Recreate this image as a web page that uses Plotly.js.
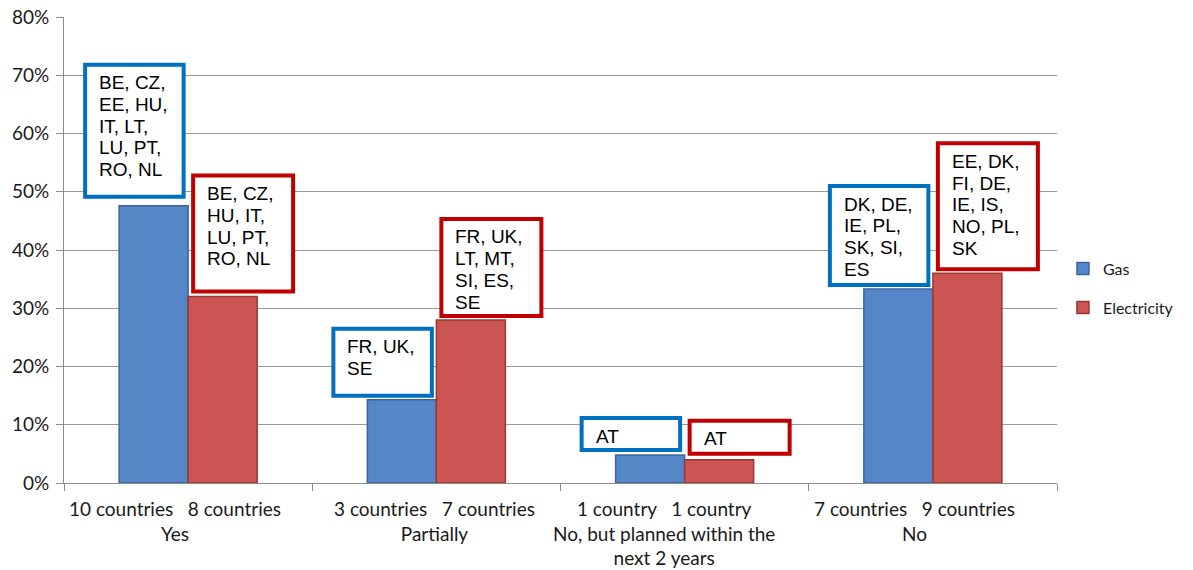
<!DOCTYPE html>
<html>
<head>
<meta charset="utf-8">
<script src="https://cdn.plot.ly/plotly-3.0.1.min.js"></script>
<style>
  html, body { margin: 0; padding: 0; background: #ffffff; }
  #chart { width: 1193px; height: 570px; }
</style>
</head>
<body>
<div id="chart"></div>
<script>
// Survey answers per category (share of responding countries, %)
const categories = ['Yes', 'Partially', 'No, but planned within the<br>next 2 years', 'No'];
const gasShare = [47.6, 14.3, 4.8, 33.3];
const elecShare = [32, 28, 4, 36];
const gasCount = ['10 countries', '3 countries', '1 country', '7 countries'];
const elecCount = ['8 countries', '7 countries', '1 country', '9 countries'];
const gasCountries = [
  ['BE, CZ,', 'EE, HU,', 'IT, LT,', 'LU, PT,', 'RO, NL'],
  ['FR, UK,', 'SE'],
  ['AT'],
  ['DK, DE,', 'IE, PL,', 'SK, SI,', 'ES']
];
const elecCountries = [
  ['BE, CZ,', 'HU, IT,', 'LU, PT,', 'RO, NL'],
  ['FR, UK,', 'LT, MT,', 'SI, ES,', 'SE'],
  ['AT'],
  ['EE, DK,', 'FI, DE,', 'IE, IS,', 'NO, PL,', 'SK']
];
const yTickVals = [0, 10, 20, 30, 40, 50, 60, 70, 80];
const yTickText = ['0%', '10%', '20%', '30%', '40%', '50%', '60%', '70%', '80%'];

// Styling
const GAS_FILL = '#5586c8', GAS_EDGE = '#3b659c', GAS_BOX = '#0070c0';
const ELEC_FILL = '#cc5452', ELEC_EDGE = '#9a3634', ELEC_BOX = '#c00000';
const gasBoxH = [136, 71, 36, 103];     // callout heights in px
const elecBoxH = [120, 101, 37, 130];
const gasBoxGap = [7, 2, 3, 2];         // space between bar top and callout
const elecBoxGap = [3, 2, 4, 2];
const labelShift = [-13, -2, -21, -18]; // category label nudges in px
const BOX_LW = 4, LINE_STEP = 21.7, TEXT_TOP = 13;
const BARGAP = 0.444;
const LABEL_FONT = 'Lato, sans-serif';

const xIdx = categories.map((c, i) => i);

const traces = [
  {
    type: 'bar', name: 'Gas', x: categories, y: gasShare,
    marker: { color: GAS_FILL, line: { color: GAS_EDGE, width: 1.5 } },
    legendgroup: 'g', hoverinfo: 'skip'
  },
  {
    type: 'bar', name: 'Electricity', x: categories, y: elecShare,
    marker: { color: ELEC_FILL, line: { color: ELEC_EDGE, width: 1.5 } },
    legendgroup: 'e', hoverinfo: 'skip'
  }
];

const shapes = [];
const annotations = [];

// Country-list callout: white box with coloured frame sitting on the bar top
function callout(i, value, lines, h, gap, x0, x1, color) {
  shapes.push({
    type: 'rect', layer: 'above',
    xref: 'x', yref: 'y',
    xsizemode: 'pixel', ysizemode: 'pixel',
    xanchor: i, yanchor: value,
    x0: x0, x1: x1,
    y0: gap + BOX_LW / 2, y1: gap + h - BOX_LW / 2,
    line: { color: color, width: BOX_LW },
    fillcolor: '#ffffff'
  });
  lines.forEach((txt, k) => {
    annotations.push({
      xref: 'x', yref: 'y', x: i, y: value,
      text: txt, showarrow: false,
      xanchor: 'left', yanchor: 'middle', align: 'left',
      xshift: x0 + 12,
      yshift: gap + h - TEXT_TOP - 7 - k * LINE_STEP,
      font: { family: 'Liberation Sans, Arial, sans-serif', size: 19, color: '#000000' }
    });
  });
}

xIdx.forEach(i => {
  callout(i, gasShare[i], gasCountries[i], gasBoxH[i], gasBoxGap[i], -103, -4.5, GAS_BOX);
  callout(i, elecShare[i], elecCountries[i], elecBoxH[i], elecBoxGap[i], 5, 105, ELEC_BOX);
  const nb = '\u00a0\u00a0\u00a0';
  annotations.push({
    xref: 'x', yref: 'paper', x: i, y: 0,
    text: gasCount[i] + nb + elecCount[i] + '<br>' + categories[i],
    showarrow: false, xanchor: 'center', yanchor: 'top', align: 'center',
    xshift: labelShift[i], yshift: -12,
    font: { family: LABEL_FONT, size: 19, color: '#1a1a1a' }
  });
});

const layout = {
  width: 1193, height: 570,
  margin: { l: 64, r: 136, t: 17, b: 87, autoexpand: false },
  paper_bgcolor: '#ffffff', plot_bgcolor: '#ffffff',
  barmode: 'group', bargap: BARGAP, bargroupgap: 0,
  showlegend: true,
  legend: {
    x: 1.006, xanchor: 'left', y: 0.418, yanchor: 'middle',
    font: { family: LABEL_FONT, size: 16, color: '#1a1a1a' },
    tracegroupgap: 15, bgcolor: 'rgba(0,0,0,0)'
  },
  xaxis: {
    type: 'category', showticklabels: false,
    tickson: 'boundaries', ticks: 'outside', ticklen: 7, tickcolor: '#8c8c8c',
    showline: true, linecolor: '#8c8c8c', linewidth: 1,
    showgrid: false, zeroline: false, fixedrange: true
  },
  yaxis: {
    range: [0, 80], tickmode: 'array', tickvals: yTickVals, ticktext: yTickText,
    ticks: 'outside', ticklen: 7, tickcolor: '#8c8c8c', ticklabelstandoff: 3,
    showline: true, linecolor: '#8c8c8c', linewidth: 1,
    showgrid: true, gridcolor: '#9a9a9a', gridwidth: 1,
    zeroline: false,
    tickfont: { family: LABEL_FONT, size: 19, color: '#1a1a1a' },
    fixedrange: true
  },
  shapes: shapes,
  annotations: annotations
};

Plotly.newPlot('chart', traces, layout, { displayModeBar: false, staticPlot: true });
</script>
</body>
</html>
